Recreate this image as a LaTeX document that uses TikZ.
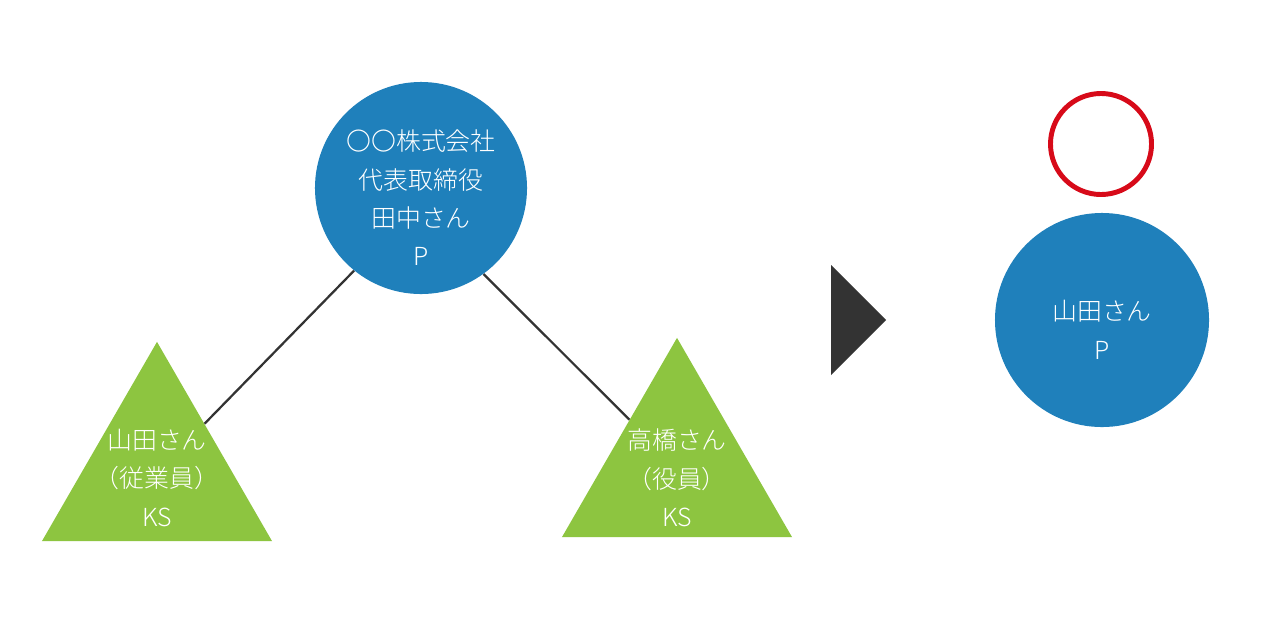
\documentclass[tikz,border=0pt]{standalone}
\usepackage{fontspec}
\setmainfont{Noto Sans CJK JP}[UprightFont=* Light]
\usetikzlibrary{shapes.geometric}
\definecolor{pblue}{RGB}{31,128,187}
\definecolor{ksgreen}{RGB}{141,197,64}
\definecolor{okred}{RGB}{215,10,25}
\definecolor{darkgrey}{RGB}{51,51,51}
\tikzset{
	whotext/.style={align=center, text=white, inner sep=0pt, font={\fontsize{17.7pt}{27.3pt}\selectfont}},
	pcircle/.style={circle, fill=pblue, inner sep=0pt, minimum size=#1},
	kstri/.style={regular polygon, regular polygon sides=3, fill=ksgreen, inner sep=0pt, minimum size=6.64cm},
	link/.style={line width=1.6pt, color=darkgrey}
}

\begin{document}
\begin{tikzpicture}[x=0.025cm, y=-0.025cm]
		%%%%% START %%%%%
		\useasboundingbox[fill=white] (0, 0) rectangle (1280, 640);
		
		% before
		\node[pcircle=5.3cm, label={[whotext, yshift=-0.25cm]center:〇〇株式会社\\代表取締役\\田中さん\\P}] (tanaka) at (421, 188) {};
		\node[kstri, label={[whotext, yshift=-0.08cm]center:山田さん\\（従業員）\\KS}] (yamada) at (157, 474.7) {};
		\node[kstri, label={[whotext, yshift=-0.18cm]center:高橋さん\\（役員）\\KS}] (takahashi) at (677, 470.7) {};
		
		\draw[link] (tanaka.231.7) -- (yamada.47);
		\draw[link] (tanaka.306.4) -- (takahashi.133);
		
		% arrow
		\fill[darkgrey] (831, 265) -- (886, 320) -- (831, 375) -- cycle;
		
		% after
		\node[circle, draw=okred, line width=3.5pt, minimum size=2.525cm, inner sep=0pt] (ok) at (1101, 144) {};
		\node[pcircle=5.35cm, label={[whotext, yshift=-0.25cm]center:山田さん\\P}] (yamadap) at (1102, 320) {};
		%%%%% END %%%%%
	\end{tikzpicture}
\end{document}
